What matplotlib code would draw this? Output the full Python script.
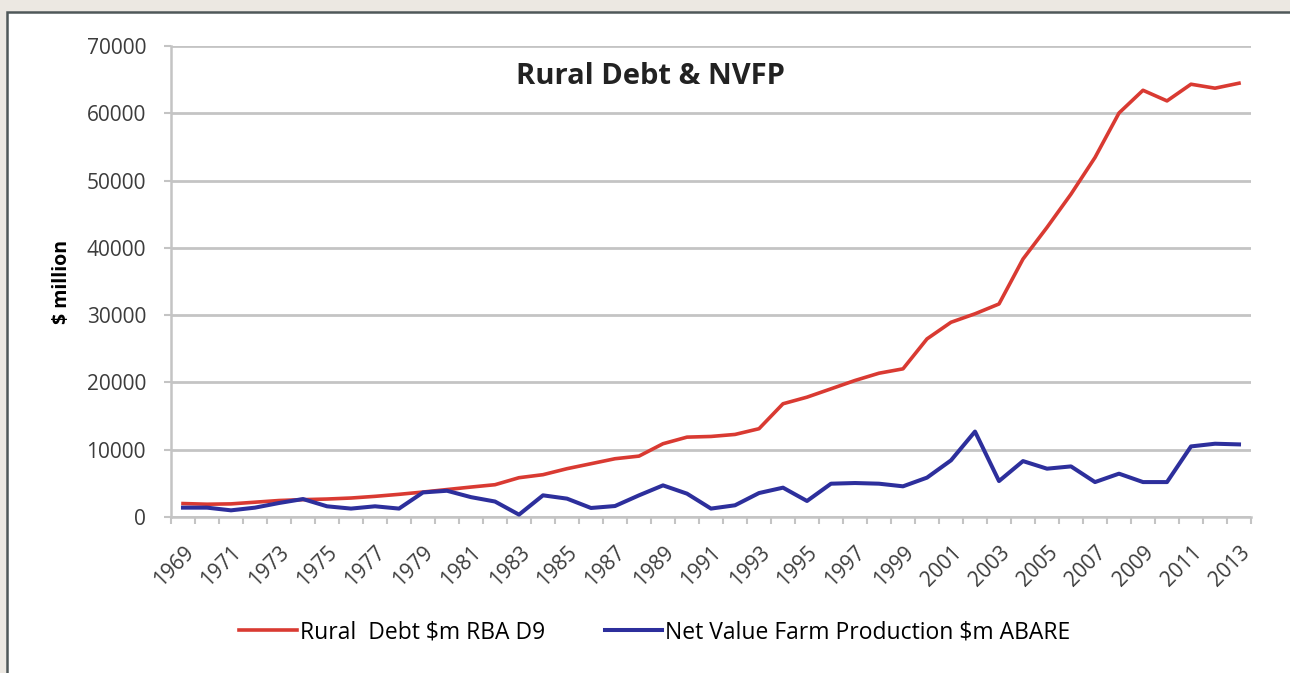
import matplotlib
matplotlib.use("Agg")
from matplotlib import pyplot as plt
from matplotlib.patches import Rectangle
from matplotlib.transforms import ScaledTranslation

years = list(range(1969, 2014))
rural_debt = [2000, 1900, 1950, 2200, 2450, 2580, 2670, 2820, 3070, 3370,
              3710, 4080, 4450, 4800, 5840, 6290, 7180, 7920, 8660, 9050,
              10890, 11870, 11970, 12270, 13120, 16830, 17810, 19050, 20290, 21370,
              22020, 26470, 28940, 30200, 31660, 38340, 43040, 47990, 53430, 60040,
              63420, 61840, 64320, 63730, 64470]
nvfp = [1390, 1390, 990, 1390, 2080, 2670, 1590, 1250, 1590, 1250,
        3650, 3900, 2950, 2300, 350, 3220, 2730, 1340, 1630, 3220,
        4700, 3470, 1250, 1740, 3560, 4360, 2380, 4950, 5050, 4950,
        4560, 5850, 8420, 12700, 5340, 8310, 7180, 7520, 5190, 6440,
        5190, 5190, 10490, 10890, 10790]
y_ticks = [0, 10000, 20000, 30000, 40000, 50000, 60000, 70000]

W, H = 1290, 673
fig = plt.figure(figsize=(W / 100, H / 100), dpi=100)
fig.patch.set_facecolor("#ece8e2")
fig.patches.append(Rectangle((7 / W, -0.05), 1.05, (H - 12) / H + 0.05,
                             transform=fig.transFigure, facecolor="white",
                             edgecolor="#4f5859", linewidth=1.8, zorder=-10))

ax = fig.add_axes([171 / W, (H - 517) / H, (1251 - 171) / W, (517 - 46) / H])
ax.set_facecolor("none")
x = list(range(len(years)))
ax.plot(x, rural_debt, color="#d93a32", linewidth=2.6, label="Rural  Debt $m RBA D9", zorder=3)
ax.plot(x, nvfp, color="#2d2f9c", linewidth=2.9, label="Net Value Farm Production $m ABARE", zorder=4)

ax.set_xlim(-0.5, len(years) - 0.5)
ax.set_ylim(0, 70000)
ax.set_yticks(y_ticks)
ax.set_yticklabels([str(v) for v in y_ticks], fontsize=15, color="#3c3c3c", family="Open Sans")
ax.yaxis.grid(True, color="#c4c4c4", linewidth=2)
ax.set_axisbelow(True)
ax.tick_params(axis="y", length=5, width=1.5, color="#c4c4c4", pad=13)

ax.set_xticks(x[::2])
ax.set_xticklabels([str(y) for y in years[::2]], rotation=45, ha="right",
                   rotation_mode="anchor", fontsize=15, color="#3c3c3c", family="Open Sans")
shift = ScaledTranslation(3 / 100, 0, fig.dpi_scale_trans)
for lab in ax.get_xticklabels():
    lab.set_transform(lab.get_transform() + shift)
ax.set_xticks([i - 0.5 for i in range(len(years) + 1)], minor=True)
ax.tick_params(axis="x", which="major", length=0, pad=18)
ax.tick_params(axis="x", which="minor", length=5, width=1.5, color="#c4c4c4")

for s in ["top", "right"]:
    ax.spines[s].set_visible(False)
for s in ["left", "bottom"]:
    ax.spines[s].set_color("#c4c4c4")
    ax.spines[s].set_linewidth(1.8)

ax.set_ylabel("$ million", fontsize=14, fontweight="bold", family="Open Sans")
ax.yaxis.set_label_coords(-(171 - 72) / (1251 - 171), 0.5)
ax.text(0.4435, 0.935, "Rural Debt & NVFP", transform=ax.transAxes, ha="center", va="center",
        fontsize=21, fontweight="bold", family="Open Sans", color="#222222")

fig.legend(loc="center", bbox_to_anchor=(655 / W, (H - 632) / H), ncol=2, frameon=False,
           handlelength=2.5, handletextpad=0.15, columnspacing=2.6,
           prop={"family": "Open Sans", "size": 16.5})

fig.savefig("out.png", dpi=100, facecolor=fig.get_facecolor())
